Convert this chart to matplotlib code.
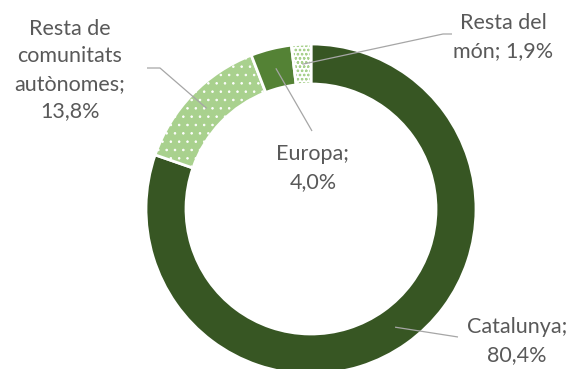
import numpy as np
import matplotlib
matplotlib.use("Agg")
import matplotlib.pyplot as plt
from matplotlib.patches import Wedge

# Data
categories = ["Catalunya", "Resta de comunitats autònomes", "Europa", "Resta del món"]
values = [80.4, 13.8, 4.0, 1.9]
labels = ["Catalunya;\n80,4%", "Resta de\ncomunitats\nautònomes;\n13,8%", "Europa;\n4,0%", "Resta del\nmón; 1,9%"]

plt.rcParams["hatch.linewidth"] = 0.6

W, H = 572, 369
fig = plt.figure(figsize=(W / 100, H / 100), dpi=100)
ax = fig.add_axes([0, 0, 1, 1])
ax.set_xlim(0, W)
ax.set_ylim(0, H)
ax.set_aspect("equal")
ax.axis("off")

def py(y):
    return H - y

cx, cy = 311, py(209)
R, width = 165, 40

face = ["#375623", "#A9D18E", "#548235", "#FFFFFF"]
hatches = [None, "..", None, "oooo"]
hatch_col = [None, "#FFFFFF", None, "#A9D18E"]

total = sum(values)
angle = 90.0
mids = []
for v, fc, h, hc in zip(values, face, hatches, hatch_col):
    theta2 = angle
    theta1 = angle - v / total * 360
    if h:
        w1 = Wedge((cx, cy), R, theta1, theta2, width=width, facecolor=fc,
                   edgecolor=hc, hatch=h, linewidth=0)
        ax.add_patch(w1)
        w2 = Wedge((cx, cy), R, theta1, theta2, width=width, facecolor="none",
                   edgecolor="white", linewidth=2)
        ax.add_patch(w2)
    else:
        w = Wedge((cx, cy), R, theta1, theta2, width=width, facecolor=fc,
                  edgecolor="white", linewidth=2)
        ax.add_patch(w)
    mids.append((theta1 + theta2) / 2)
    angle = theta1

rm = R - width / 2
anchors = [(cx + rm * np.cos(np.radians(m)), cy + rm * np.sin(np.radians(m))) for m in mids]

text_pos = [(517, py(341)), (70, py(70)), (313, py(168)), (503, py(37))]
line_ends = [
    [(458, py(337))],
    [(160, py(68)), (147, py(68))],
    [(312, py(131))],
    [(443, py(34)), (452, py(34))],
]
lc = "#A6A6A6"
for (ax0, ay0), ends in zip(anchors, line_ends):
    xs = [ax0] + [e[0] for e in ends]
    ys = [ay0] + [e[1] for e in ends]
    ax.plot(xs, ys, color=lc, linewidth=0.9, solid_capstyle="butt")

for (tx, ty), lab in zip(text_pos, labels):
    ax.text(tx, ty, lab, ha="center", va="center", multialignment="center",
            fontsize=15.5, color="#595959", family="Lato", linespacing=1.45)

fig.savefig("out.png", dpi=100)
